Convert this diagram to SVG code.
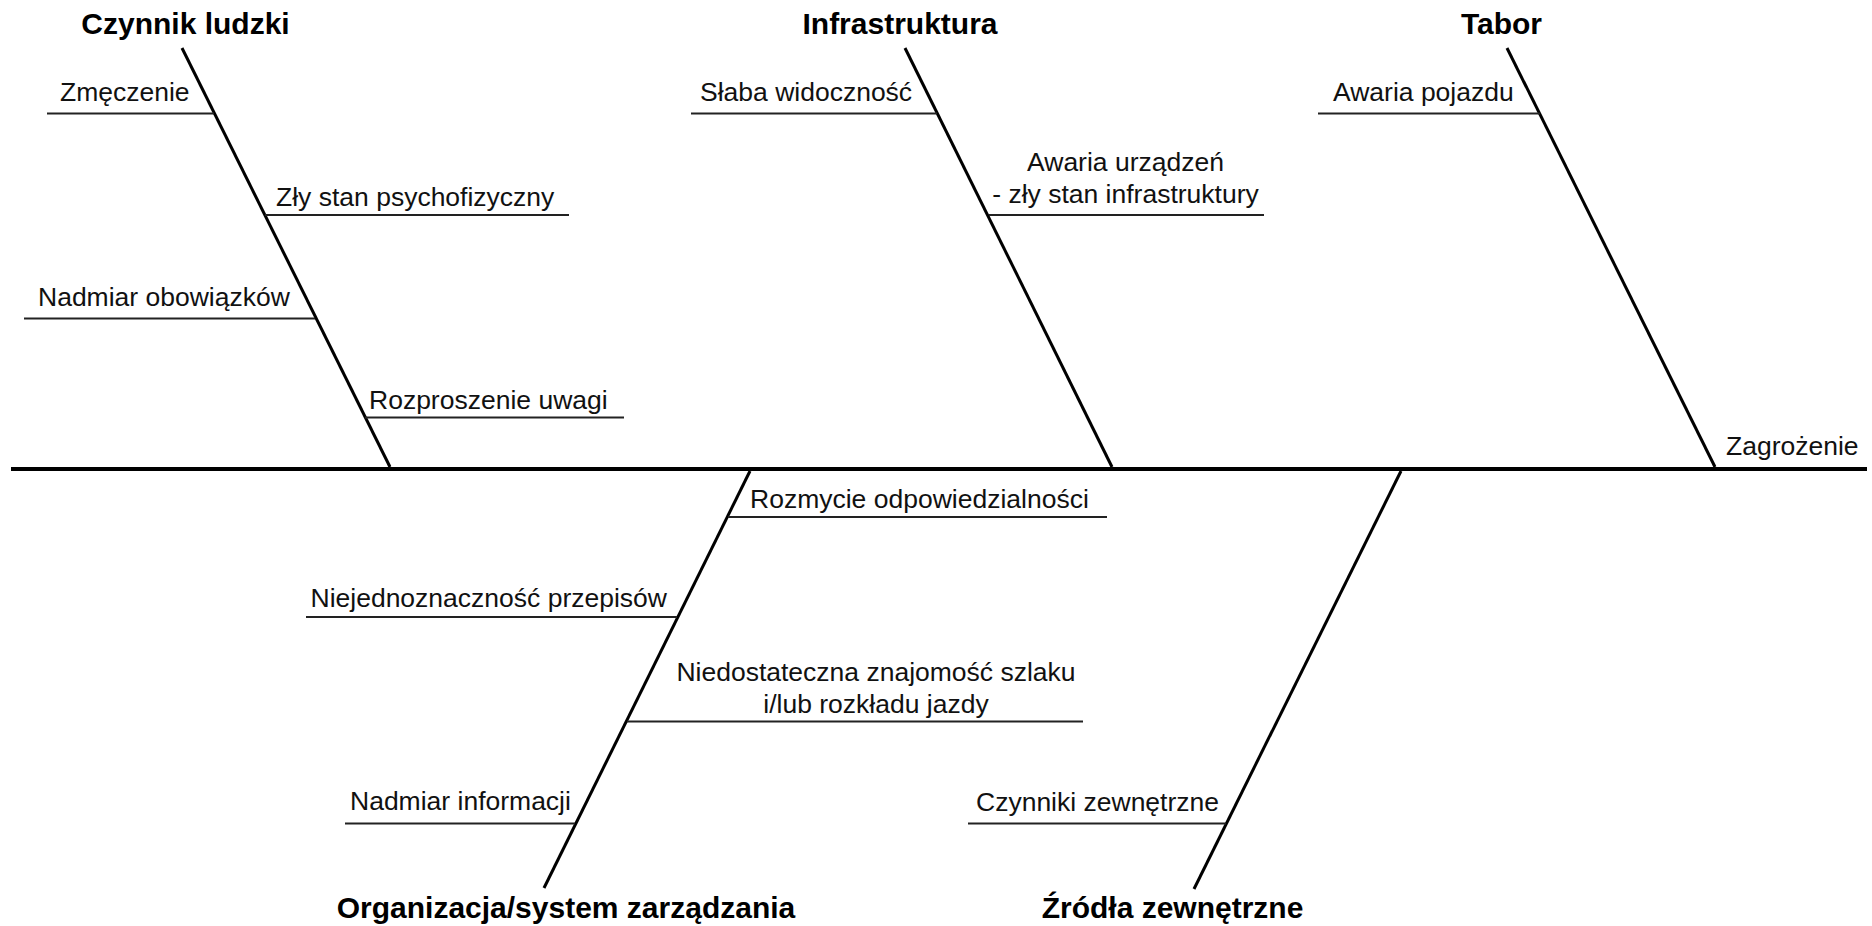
<svg xmlns="http://www.w3.org/2000/svg" width="1872" height="926" viewBox="0 0 1872 926">
<style>
.spine{stroke:#000;stroke-width:4;fill:none}
.bone{stroke:#000;stroke-width:3;fill:none}
.sub{stroke:#222;stroke-width:2;fill:none}
.t{font-family:"Liberation Sans",Arial,sans-serif;font-size:26.5px;fill:#111}
.h{font-family:"Liberation Sans",Arial,sans-serif;font-size:30px;font-weight:bold;fill:#000;text-anchor:middle}
.c{text-anchor:middle}
</style>
<rect width="1872" height="926" fill="#fff"/>
<g id="connectors">
<line class="spine" x1="11" y1="469" x2="1867" y2="469"/>
<line class="bone" x1="182" y1="48" x2="390" y2="467"/>
<line class="bone" x1="905" y1="48" x2="1112" y2="467"/>
<line class="bone" x1="1507" y1="48" x2="1715" y2="467"/>
<line class="bone" x1="750" y1="471" x2="544" y2="888"/>
<line class="bone" x1="1401" y1="471" x2="1194" y2="889"/>
<line class="sub" x1="47" y1="113.5" x2="214" y2="113.5"/>
<line class="sub" x1="265" y1="215" x2="569" y2="215"/>
<line class="sub" x1="24" y1="318.5" x2="315" y2="318.5"/>
<line class="sub" x1="365" y1="417.5" x2="624" y2="417.5"/>
<line class="sub" x1="691" y1="113.5" x2="937" y2="113.5"/>
<line class="sub" x1="989" y1="215" x2="1264" y2="215"/>
<line class="sub" x1="1318" y1="113.5" x2="1540" y2="113.5"/>
<line class="sub" x1="728" y1="517" x2="1107" y2="517"/>
<line class="sub" x1="306" y1="617" x2="677" y2="617"/>
<line class="sub" x1="627" y1="721.5" x2="1083" y2="721.5"/>
<line class="sub" x1="345" y1="823.5" x2="575" y2="823.5"/>
<line class="sub" x1="968" y1="823.5" x2="1226" y2="823.5"/>
</g>
<g id="czynnik-ludzki">
<text class="h" x="185.5" y="34">Czynnik ludzki</text>
<text class="t" x="60" y="101">Zmęczenie</text>
<text class="t" x="276" y="206">Zły stan psychofizyczny</text>
<text class="t" x="38" y="306">Nadmiar obowiązków</text>
<text class="t" x="369" y="409">Rozproszenie uwagi</text>
</g>
<g id="infrastruktura">
<text class="h" x="900" y="34">Infrastruktura</text>
<text class="t" x="700" y="101">Słaba widoczność</text>
<text class="t c" x="1125.5" y="171">Awaria urządzeń</text>
<text class="t c" x="1125.5" y="203">- zły stan infrastruktury</text>
</g>
<g id="tabor">
<text class="h" x="1501.5" y="34">Tabor</text>
<text class="t" x="1333" y="101">Awaria pojazdu</text>
</g>
<g id="zagrozenie">
<text class="t" x="1726" y="455">Zagrożenie</text>
</g>
<g id="organizacja">
<text class="h" x="566" y="918">Organizacja/system zarządzania</text>
<text class="t" x="750" y="508">Rozmycie odpowiedzialności</text>
<text class="t" x="310.5" y="607">Niejednoznaczność przepisów</text>
<text class="t c" x="876" y="681">Niedostateczna znajomość szlaku</text>
<text class="t c" x="876" y="713">i/lub rozkładu jazdy</text>
<text class="t" x="350" y="810">Nadmiar informacji</text>
</g>
<g id="zrodla-zewnetrzne">
<text class="h" x="1172.5" y="918">Źródła zewnętrzne</text>
<text class="t" x="976" y="811">Czynniki zewnętrzne</text>
</g>
</svg>
